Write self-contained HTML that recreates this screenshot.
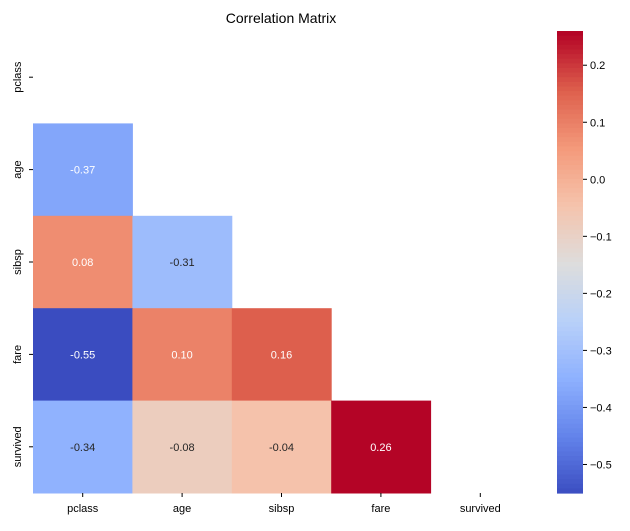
<!DOCTYPE html>
<html><head><meta charset="utf-8"><style>
body{margin:0;background:#fff;font-family:"Liberation Sans","Noto Sans CJK KR",sans-serif;}
svg text{font-family:"Liberation Sans","Noto Sans CJK KR",sans-serif;}
</style></head><body>
<svg id="chart" width="630" height="526">
<text x="281" y="23" font-size="14" text-anchor="middle" fill="#000">Correlation Matrix</text>
<g id="cells"></g><g id="cbar"></g>
</svg>
<script>
const labels=["pclass","age","sibsp","fare","survived"];
const corrValues=[
[null,null,null,null,null],
[-0.37,null,null,null,null],
[0.08,-0.31,null,null,null],
[-0.55,0.10,0.16,null,null],
[-0.34,-0.08,-0.04,0.26,null]];
const cbarTicks=[0.2,0.1,0.0,-0.1,-0.2,-0.3,-0.4,-0.5];
const vmin=-0.55,vmax=0.26;
const L=33,T=31,W=497,H=462;
const cw=W/labels.length,ch=H/labels.length;
const stops=[[58,76,192],[98,130,234],[141,176,254],[184,208,249],[221,221,221],[245,196,173],[244,154,123],[222,96,77],[180,4,38]];
function cmap(v){let t=(v-vmin)/(vmax-vmin);t=Math.max(0,Math.min(1,t));const p=t*(stops.length-1);const i=Math.min(stops.length-2,Math.floor(p));const f=p-i;const c=stops[i].map((a,k)=>Math.round(a+(stops[i+1][k]-a)*f));return c;}
function lum(c){const l=c.map(x=>{x/=255;return x<=0.03928?x/12.92:Math.pow((x+0.055)/1.055,2.4)});return 0.2126*l[0]+0.7152*l[1]+0.0722*l[2];}
const NS="http://www.w3.org/2000/svg";
const g=document.getElementById("cells");
function el(tag,attrs,parent){const e=document.createElementNS(NS,tag);for(const k in attrs)e.setAttribute(k,attrs[k]);parent.appendChild(e);return e;}
corrValues.forEach((row,r)=>row.forEach((v,c)=>{if(v===null)return;const col=cmap(v);
const rect=el("rect",{x:L+c*cw,y:T+r*ch,width:cw+0.5,height:ch+0.5,fill:`rgb(${col[0]},${col[1]},${col[2]})`},g);


const t=el("text",{x:L+c*cw+cw/2,y:T+r*ch+ch/2+4,"font-size":"11","text-anchor":"middle",fill:lum(col)>0.408?"#262626":"#fff"},g);
t.textContent=v.toFixed(2);

}));
labels.forEach((lab,i)=>{
const x=L+i*cw+cw/2;
el("line",{x1:x,x2:x,y1:T+H,y2:T+H+4,stroke:"#000"},g);
const tx=el("text",{x:x,y:T+H+19,"font-size":"11","text-anchor":"middle"},g);tx.textContent=lab;


const y=T+i*ch+ch/2;
el("line",{x1:L-4,x2:L,y1:y,y2:y,stroke:"#000"},g);
const ty=el("text",{x:0,y:0,"font-size":"11","text-anchor":"middle",transform:`translate(${L-12},${y}) rotate(-90)`},g);ty.textContent=lab;

});
const cb=document.getElementById("cbar");const cx=557,cwid=26;
const N=100;for(let i=0;i<N;i++){const v=vmax-(vmax-vmin)*i/N;const c=cmap(v);el("rect",{x:cx,y:T+H*i/N,width:cwid,height:H/N+0.6,fill:`rgb(${c[0]},${c[1]},${c[2]})`},cb);}


cbarTicks.forEach(v=>{const y=T+(vmax-v)/(vmax-vmin)*H;el("line",{x1:cx+cwid,x2:cx+cwid+4,y1:y,y2:y,stroke:"#000"},cb);
const t=el("text",{x:cx+cwid+7,y:y+4,"font-size":"11"},cb);t.textContent=(v<0?"−":"")+Math.abs(v).toFixed(1);

});
</script>
</body></html>
